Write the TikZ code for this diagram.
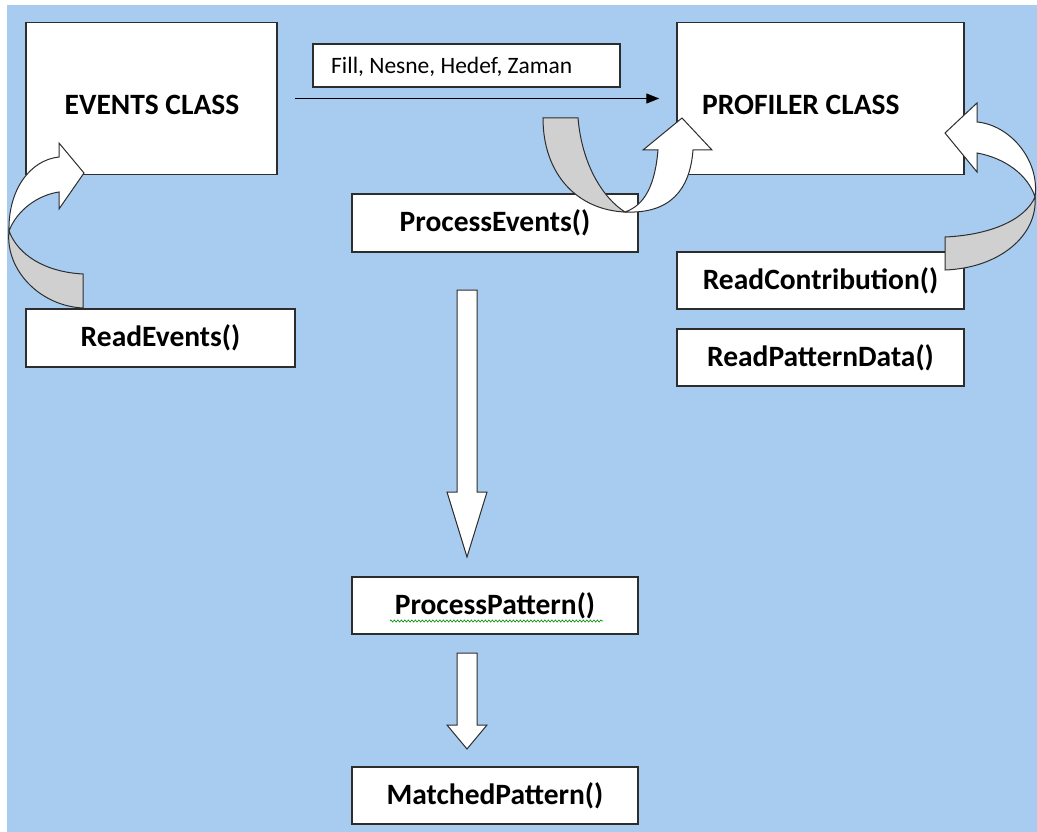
\documentclass[tikz,border=0pt]{standalone}
\usepackage{fontspec}
\setmainfont{Carlito}
\usetikzlibrary{arrows.meta,decorations.pathmorphing}
\definecolor{bgblue}{RGB}{168,204,240}
\definecolor{foldgray}{RGB}{208,208,208}
\definecolor{edge}{RGB}{45,45,45}
\begin{document}
\begin{tikzpicture}[x=1pt,y=-1pt,
  box/.style={draw=edge, line width=1.5pt, fill=white, inner sep=0pt},
  bigtext/.style={font=\bfseries\fontsize{29.5}{34}\selectfont},
  smalltext/.style={font=\fontsize{23.5}{27}\selectfont},
  shapeline/.style={draw=edge, line width=1pt, line join=miter},
  thinarrow/.style={draw=black, line width=1.2pt, -{Triangle[length=13pt,width=10pt]}}
]
\useasboundingbox (0,0) rectangle (1037,832);
\fill[bgblue] (7,5) rectangle (1037,832);

% boxes
\node[box, minimum width=251pt, minimum height=152pt] (events) at (151.5,98.5) {};
\node[bigtext] (eventstext) at (152,105) {EVENTS CLASS};
\node[box, minimum width=287pt, minimum height=152pt] (profiler) at (820.5,98.5) {};
\node[bigtext, anchor=west, inner sep=0pt] (proftext) at (702,105) {PROFILER CLASS};
\node[box, minimum width=307pt, minimum height=43pt] (label) at (466.5,65.5) {};
\node[smalltext, anchor=west, inner sep=0pt] (labeltext) at (331,67) {Fill, Nesne, Hedef, Zaman};
\node[box, bigtext, minimum width=286pt, minimum height=58pt] (procev) at (495,223) {ProcessEvents()};
\node[box, bigtext, minimum width=269pt, minimum height=58pt] (readev) at (160.5,338) {ReadEvents()};
\node[box, bigtext, minimum width=287pt, minimum height=57pt] (readcon) at (820.5,280.5) {ReadContribution()};
\node[box, bigtext, minimum width=287pt, minimum height=57pt] (readpat) at (820.5,357.5) {ReadPatternData()};
\node[box, bigtext, minimum width=286pt, minimum height=57pt] (procpat) at (495,605.5) {ProcessPattern()};
\node[box, bigtext, minimum width=286pt, minimum height=57pt] (matched) at (495,795.5) {MatchedPattern()};

% spell-check squiggle
\draw[green!55!black, line width=0.6pt, decorate, decoration={zigzag, amplitude=1.1pt, segment length=3.5pt}] (390,621) -- (603,621);

% thin arrow
\draw[thinarrow] ([xshift=17pt]events.east) -- ([xshift=-17pt]profiler.west);

% block down arrows
\path[shapeline, fill=white] (457,290) -- (477,290) -- (477,492) -- (487,492) -- (467,557) -- (447,492) -- (457,492) -- cycle;
\path[shapeline, fill=white] (457,653) -- (477,653) -- (477,725) -- (487,725) -- (467,749) -- (447,725) -- (457,725) -- cycle;

% left curved arrow
\path[shapeline, fill=foldgray] (83,308) -- (83,274) .. controls (45,272) and (18,255) .. (9,231)
  .. controls (5,270) and (40,306) .. (83,308) -- cycle;
\path[shapeline, fill=white] (9,231) .. controls (8,190) and (30,160) .. (59,157) -- (59,143) -- (84,173) -- (59,209) -- (59,192)
  .. controls (38,195) and (17,210) .. (9,231) -- cycle;

% middle curved arrow
\path[shapeline, fill=foldgray] (543,118) -- (578,118) .. controls (582,165) and (603,198) .. (625,212)
  .. controls (578,210) and (543,175) .. (543,118) -- cycle;
\path[shapeline, fill=white] (625,212) .. controls (670,214) and (690,190) .. (693,150) -- (712,150) -- (682,118) -- (643,150) -- (658,150)
  .. controls (655,185) and (645,205) .. (625,212) -- cycle;

% right curved arrow
\path[shapeline, fill=foldgray] (945,270) -- (945,237) .. controls (990,235) and (1025,220) .. (1035,197)
  .. controls (1038,235) and (1000,268) .. (945,270) -- cycle;
\path[shapeline, fill=white] (1035,197) .. controls (1040,160) and (1010,125) .. (977,122) -- (977,103) -- (945,133) -- (977,172) -- (977,153)
  .. controls (1005,158) and (1028,175) .. (1035,197) -- cycle;
\end{tikzpicture}
\end{document}
